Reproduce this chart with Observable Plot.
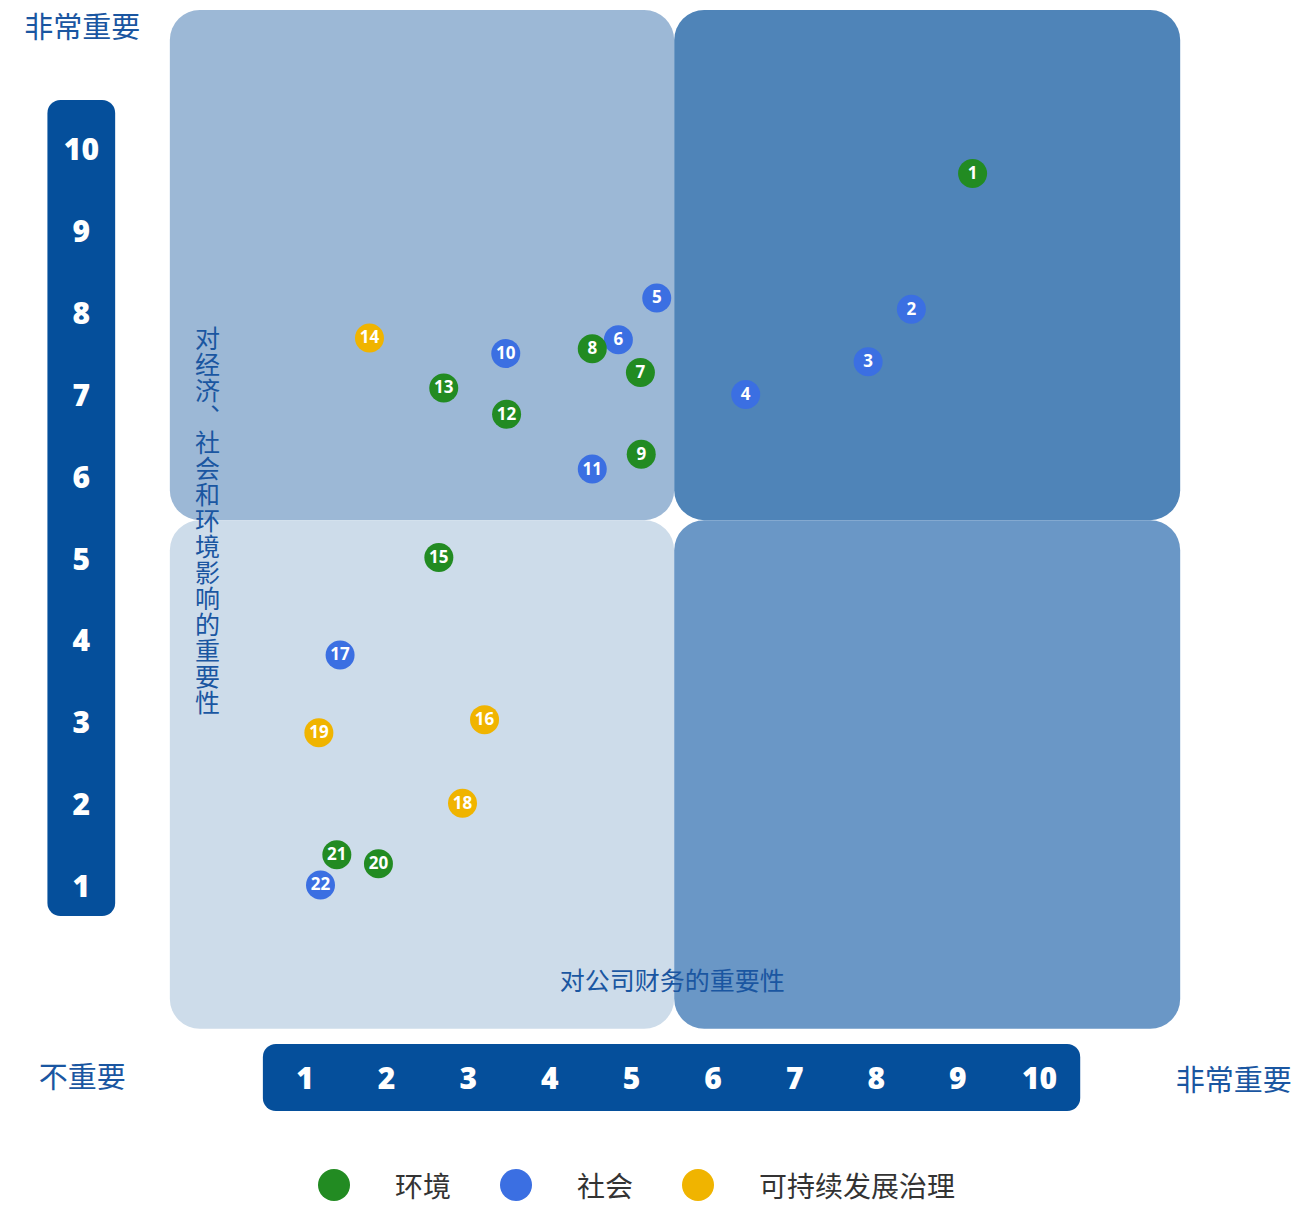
<!DOCTYPE html>
<html>
<head>
<meta charset="utf-8">
<script src="https://cdn.jsdelivr.net/npm/d3@7"></script>
<script src="https://cdn.jsdelivr.net/npm/@observablehq/plot@0.6"></script>
<style>
  html, body { margin: 0; padding: 0; background: #fff; }
  #chart svg { display: block; }
  .legend { display: flex; align-items: center; padding-left: 318px; margin-top: 19px; height: 32px;
    font-family: "Noto Sans CJK SC", "Noto Sans", sans-serif; font-size: 28px; color: #333; }
  .legend .sw { width: 32px; height: 32px; border-radius: 50%; margin-right: 45px; flex: none; }
  .legend .lb { margin-right: 49px; line-height: 32px; }
</style>
</head>
<body>
<div id="chart"></div>
<div class="legend" id="legend"></div>
<script>
// ---- data ----
const categories = ["环境", "社会", "可持续发展治理"];
const categoryColors = ["#228b22", "#3b6fe2", "#f0b400"];
const ids = [1,2,3,4,5,6,7,8,9,10,11,12,13,14,15,16,17,18,19,20,21,22];
const financial = [9.18,8.43,7.90,6.40,5.31,4.84,5.11,4.52,5.12,3.46,4.52,3.47,2.70,1.79,2.64,3.20,1.43,2.93,1.17,1.90,1.39,1.19];
const impact    = [9.72,8.06,7.42,7.02,8.20,7.69,7.29,7.58,6.29,7.52,6.11,6.78,7.10,7.71,5.03,3.05,3.84,2.03,2.89,1.29,1.40,1.03];
const category  = ["环境","社会","社会","社会","社会","社会","环境","环境","环境","社会","社会","环境","环境","可持续发展治理","环境","可持续发展治理","社会","可持续发展治理","可持续发展治理","环境","环境","社会"];
const tickValues = [1,2,3,4,5,6,7,8,9,10];
const xTitle = "对公司财务的重要性";
const yTitle = "对经济、社会和环境影响的重要性";
const highLabel = "非常重要";
const lowLabel = "不重要";

const points = ids.map((id, i) => ({id, fx: financial[i], iy: impact[i], cat: category[i]}));

// ---- layout (data units) ----
const L = { xLo: -0.65, xMid: 5.53, xHi: 11.73, yLo: -0.73, yMid: 5.48, yHi: 11.71 };
const quads = [
  {x1: L.xLo, x2: L.xMid, y1: L.yMid, y2: L.yHi, fill: "#9cb8d6"},
  {x1: L.xMid, x2: L.xHi, y1: L.yMid, y2: L.yHi, fill: "#4f84b8"},
  {x1: L.xLo, x2: L.xMid, y1: L.yLo, y2: L.yMid, fill: "#cddcea"},
  {x1: L.xMid, x2: L.xHi, y1: L.yLo, y2: L.yMid, fill: "#6a97c6"}
];
const yBar = [{x1: -2.15, x2: -1.32, y1: 0.645, y2: 10.61}];
const xBar = [{x1: 0.49, x2: 10.505, y1: -0.917, y2: -1.735}];
const yAxisX = -1.74, xAxisY = -1.34;
const blue = "#1a56a1";
const numFont = "'Open Sans', 'DejaVu Sans', sans-serif";
const cjkFont = "'Noto Sans CJK SC', sans-serif";

const plot = Plot.plot({
  width: 1297, height: 1150,
  marginTop: 0, marginRight: 0, marginBottom: 0, marginLeft: 0,
  x: {domain: [1, 10], range: [304.5, 1039], axis: null},
  y: {domain: [1, 10], range: [887, 150], axis: null},
  color: {domain: categories, range: categoryColors},
  style: {background: "#fff", overflow: "visible"},
  marks: [
    Plot.rect(quads, {x1: "x1", x2: "x2", y1: "y1", y2: "y2", fill: d => d.fill, rx: 30}),
    Plot.rect(yBar, {x1: "x1", x2: "x2", y1: "y1", y2: "y2", fill: "#054f9b", rx: 13}),
    Plot.rect(xBar, {x1: "x1", x2: "x2", y1: "y1", y2: "y2", fill: "#054f9b", rx: 13}),
    Plot.text(tickValues, {x: () => yAxisX, y: d => d, text: d => String(d), fill: "#fff",
      fontSize: 30, fontWeight: 800, fontFamily: numFont}),
    Plot.text(tickValues, {x: d => d, y: () => xAxisY, text: d => String(d), fill: "#fff",
      fontSize: 30, fontWeight: 800, fontFamily: numFont}),
    Plot.text([
      {t: highLabel, x: -1.73, y: 11.49},
      {t: lowLabel, x: -1.73, y: -1.34},
      {t: highLabel, x: 12.38, y: -1.37}
    ], {x: "x", y: "y", text: "t", fill: blue, fontSize: 29, fontFamily: cjkFont}),
    Plot.text([{t: xTitle, x: 5.5, y: -0.15}], {x: "x", y: "y", text: "t", fill: blue, fontSize: 25, fontFamily: cjkFont}),
    Plot.text([{t: yTitle, x: -0.195, y: 5.48}], {x: "x", y: "y", text: "t", fill: blue,
      fontSize: 25, fontFamily: cjkFont}),
    Plot.dot(points, {x: "fx", y: "iy", r: 14.5, fill: "cat"}),
    Plot.text(points, {x: "fx", y: "iy", text: d => String(d.id), fill: "#fff", fontSize: 17,
      fontWeight: 700, fontFamily: numFont})
  ]
});
// render the y title vertically (upright CJK characters)
plot.querySelectorAll("text").forEach(t => {
  if (t.textContent === yTitle) {
    t.style.writingMode = "vertical-rl";
    t.style.textOrientation = "upright";
    t.setAttribute("dy", "-8");
    t.setAttribute("letter-spacing", "1");
  }
});
document.getElementById("chart").appendChild(plot);

const legend = document.getElementById("legend");
categories.forEach((c, i) => {
  const sw = document.createElement("span");
  sw.className = "sw";
  sw.style.background = categoryColors[i];
  const lb = document.createElement("span");
  lb.className = "lb";
  lb.textContent = c;
  legend.appendChild(sw);
  legend.appendChild(lb);
});
</script>
</body>
</html>
